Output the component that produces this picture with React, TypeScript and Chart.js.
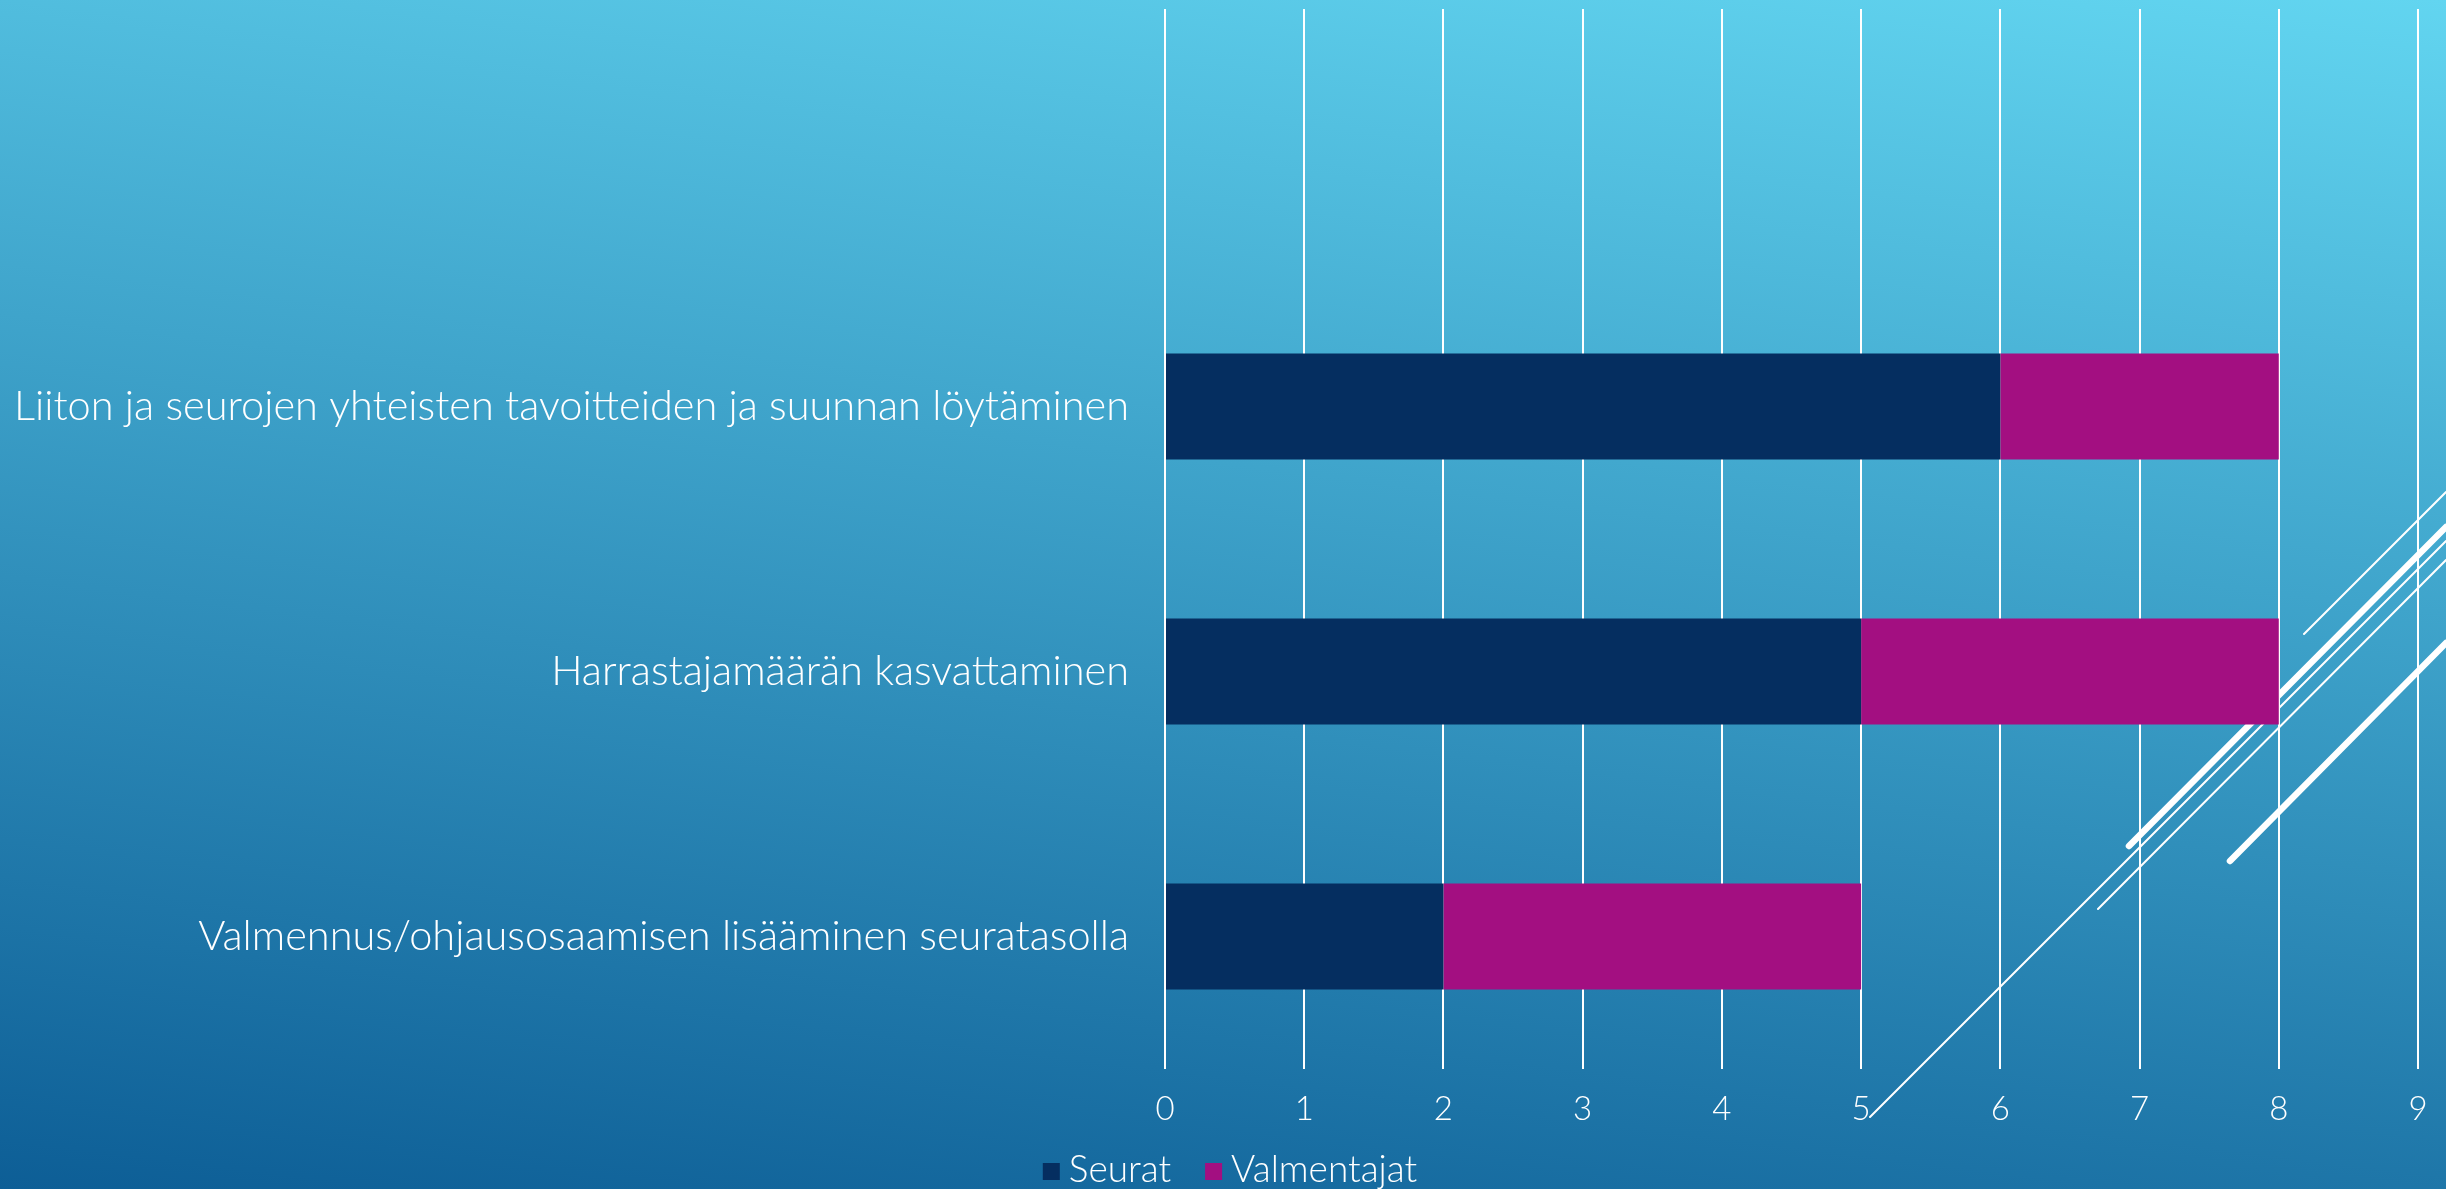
import { useEffect, useRef } from "react";
import { Chart, registerables } from "chart.js";

Chart.register(...registerables);

const categories = [
  "",
  "Liiton ja seurojen yhteisten tavoitteiden ja suunnan löytäminen",
  "Harrastajamäärän kasvattaminen",
  "Valmennus/ohjausosaamisen lisääminen seuratasolla",
];
const seriesNames = ["Seurat", "Valmentajat"];
const seuratValues = [null, 6, 5, 2];
const valmentajatValues = [null, 2, 3, 3];
const axisMin = 0;
const axisMax = 9;
const axisStep = 1;

const NAVY = "#052E60";
const MAGENTA = "#A30F81";
const FONT = "Lato";

// decorative slide background strokes (not data)
const decoLines = [
  { x1: 2304, y1: 634, x2: 2446, y2: 492, w: 2 },
  { x1: 2129, y1: 846, x2: 2446, y2: 527, w: 6.5 },
  { x1: 1870, y1: 1117, x2: 2446, y2: 541, w: 2 },
  { x1: 2098, y1: 909, x2: 2446, y2: 560, w: 2 },
  { x1: 2230, y1: 861, x2: 2446, y2: 643, w: 6.5 },
];

const decoPlugin = {
  id: "deco",
  beforeDraw(chart: any) {
    const ctx = chart.ctx;
    ctx.save();
    ctx.strokeStyle = "#FFFFFF";
    ctx.lineCap = "round";
    for (const l of decoLines) {
      ctx.lineWidth = l.w;
      ctx.beginPath();
      ctx.moveTo(l.x1, l.y1);
      ctx.lineTo(l.x2, l.y2);
      ctx.stroke();
    }
    ctx.restore();
  },
};

const legendPlugin = {
  id: "customLegend",
  afterDraw(chart: any) {
    const ctx = chart.ctx;
    const ds = chart.data.datasets;
    ctx.save();
    ctx.font = `300 37px ${FONT}`;
    const box = 17;
    const gapText = 9;
    const gapItems = 34;
    const widths = ds.map((d: any) => ctx.measureText(d.label).width);
    let total = 0;
    widths.forEach((w: number, i: number) => {
      total += box + gapText + w + (i > 0 ? gapItems : 0);
    });
    let x = chart.width / 2 - total / 2 + 7;
    const baseline = chart.chartArea.bottom + 113;
    const boxTop = chart.chartArea.bottom + 94;
    ds.forEach((d: any, i: number) => {
      ctx.fillStyle = d.backgroundColor;
      ctx.fillRect(x, boxTop, box, box);
      x += box + gapText;
      ctx.fillStyle = "#FFFFFF";
      ctx.textBaseline = "alphabetic";
      ctx.textAlign = "left";
      ctx.fillText(d.label, x, baseline);
      x += widths[i] + gapItems;
    });
    ctx.restore();
  },
};

export default function App() {
  const ref = useRef<HTMLCanvasElement | null>(null);

  useEffect(() => {
    if (!ref.current) return;
    const chart = new Chart(ref.current, {
      type: "bar",
      data: {
        labels: categories,
        datasets: [
          {
            label: seriesNames[0],
            data: seuratValues,
            backgroundColor: NAVY,
            borderWidth: 0,
            categoryPercentage: 1,
            barPercentage: 0.4,
          },
          {
            label: seriesNames[1],
            data: valmentajatValues,
            backgroundColor: MAGENTA,
            borderWidth: 0,
            categoryPercentage: 1,
            barPercentage: 0.4,
          },
        ],
      },
      options: {
        indexAxis: "y",
        animation: false,
        responsive: false,
        maintainAspectRatio: false,
        layout: { padding: { top: 9, right: 28, left: 0, bottom: 0 } },
        plugins: {
          legend: { display: false },
          tooltip: { enabled: false },
        },
        scales: {
          x: {
            stacked: true,
            min: axisMin,
            max: axisMax,
            ticks: {
              stepSize: axisStep,
              color: "#FFFFFF",
              font: { family: FONT, size: 33, weight: "300" },
              padding: 21,
            },
            grid: {
              color: "#FFFFFF",
              lineWidth: 2,
              drawTicks: false,
            },
            border: { display: false },
            afterFit(scale: any) {
              scale.height = 120;
              scale.paddingLeft = 0;
              scale.paddingRight = 0;
            },
          },
          y: {
            stacked: true,
            ticks: {
              color: "#FFFFFF",
              font: { family: FONT, size: 41.5, weight: "300" },
              padding: 36,
            },
            grid: { display: false, drawTicks: false },
            border: { display: false },
            afterFit(scale: any) {
              scale.width = 1165;
              scale.paddingTop = 0;
              scale.paddingBottom = 0;
            },
          },
        },
      },
      plugins: [decoPlugin, legendPlugin],
    } as any);
    return () => chart.destroy();
  }, []);

  return (
    <div
      style={{
        position: "fixed",
        left: 0,
        top: 0,
        width: 2446,
        height: 1189,
        background: "linear-gradient(7deg, #0D5E96 0%, #62D5F0 100%)",
      }}
    >
      <canvas ref={ref} width={2446} height={1189} style={{ display: "block" }} />
    </div>
  );
}
